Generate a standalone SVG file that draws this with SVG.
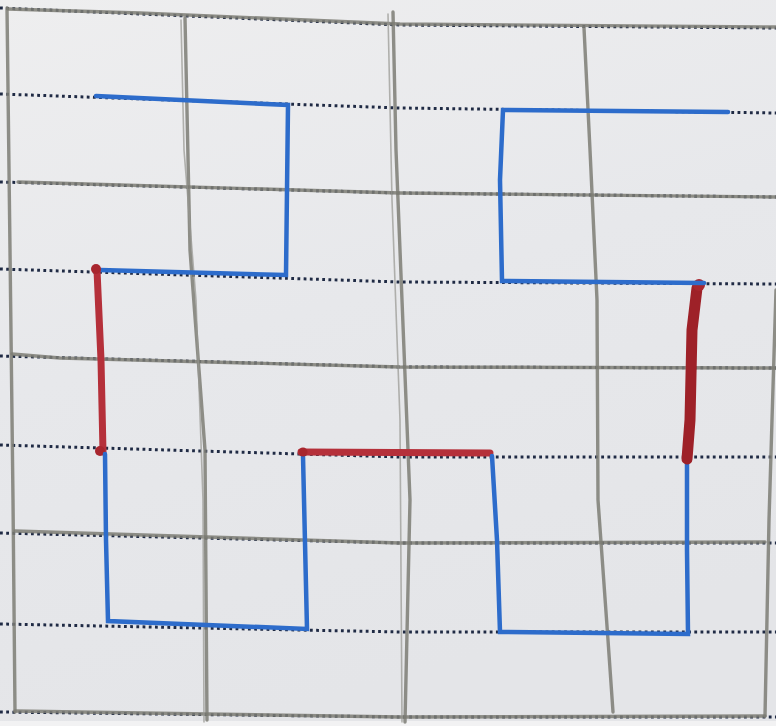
<svg xmlns="http://www.w3.org/2000/svg" width="776" height="726" viewBox="0 0 776 726">
  <defs>
    <linearGradient id="paper" x1="0" y1="0" x2="0.3" y2="1">
      <stop offset="0" stop-color="#eeeeef"/>
      <stop offset="0.5" stop-color="#e7e8eb"/>
      <stop offset="1" stop-color="#e4e5e8"/>
    </linearGradient>
  </defs>
  <style>
    .dot { fill: none; stroke: #1f2a44; stroke-width: 3; stroke-dasharray: 2.8 3.4; stroke-linecap: butt; }
    .pencil { fill: none; stroke: #7c7c74; stroke-width: 3.4; stroke-linecap: round; stroke-linejoin: round; opacity: 0.85; }
    .pencil2 { fill: none; stroke: #959590; stroke-width: 1.6; stroke-linecap: round; opacity: 0.7; }
    .blue { fill: none; stroke: #2d6ccb; stroke-width: 4.5; stroke-linecap: round; stroke-linejoin: miter; }
    .red { fill: none; stroke: #b5303a; stroke-width: 7; stroke-linecap: round; stroke-linejoin: round; }
    .red2 { fill: none; stroke: #9e2128; stroke-width: 11; stroke-linecap: round; stroke-linejoin: round; }
    .blob { fill: #a8262e; }
  </style>
  <rect x="0" y="0" width="776" height="726" fill="url(#paper)"/>
  <rect x="0" y="721" width="776" height="5" fill="#f2f2f3"/>

  <g id="dotted-rows">
    <polyline class="dot" points="0,8 400,25 776,28"/>
    <polyline class="dot" points="0,94 400,108 776,113"/>
    <polyline class="dot" points="0,182 400,193 776,197"/>
    <polyline class="dot" points="0,269 400,282 776,284"/>
    <polyline class="dot" points="0,356 400,367 776,368"/>
    <polyline class="dot" points="0,445 400,457 776,457"/>
    <polyline class="dot" points="0,533 400,543 776,543"/>
    <polyline class="dot" points="0,624 400,632 776,632"/>
    <polyline class="dot" points="0,712 400,717 776,717"/>
  </g>

  <g id="pencil-grid">
    <polyline class="pencil" points="8,9 140,13 400,24 776,27"/>
    <polyline class="pencil" points="18,182 400,193 776,197"/>
    <polyline class="pencil" points="12,354 60,358 400,367 776,368"/>
    <polyline class="pencil" points="15,531 400,543 765,542"/>
    <polyline class="pencil" points="15,711 400,717 765,716"/>
    <polyline class="pencil" points="7,8 10,250 13,500 15,712"/>
    <polyline class="pencil" points="185,18 190,250 205,450 207,720"/>
    <polyline class="pencil2" points="181,20 184,150 196,300 203,500 204,722"/>
    <polyline class="pencil" points="393,12 396,150 402,300 410,500 405,722"/>
    <polyline class="pencil2" points="388,14 392,200 400,420 402,722"/>
    <polyline class="pencil" points="584,28 590,150 597,300 598,500 608,640 613,712"/>
    <polyline class="pencil" points="776,290 772,420 769,520 765,716"/>
  </g>

  <g id="curve">
    <polyline class="blue" points="96,96 288,105 286,275 100,270"/>
    <polyline class="red" points="97,270 101,360 103,452"/>
    <circle class="blob" cx="96" cy="269" r="5"/>
    <circle class="blob" cx="100" cy="451" r="5"/>
    <polyline class="blue" points="105,454 106,540 108,621 307,629 303,456"/>
    <polyline class="red" points="301,452 490,453"/>
    <circle class="blob" cx="303" cy="452" r="4.5"/>
    <polyline class="blue" points="492,456 497,540 500,632 688,634 687,550 687,462"/>
    <polyline class="red2" points="687,459 690,420 692,330 697,288"/>
    <circle class="blob" cx="699" cy="285" r="6"/>
    <polyline class="blue" points="704,283 502,281 500,180 503,110 728,112"/>
  </g>
</svg>
